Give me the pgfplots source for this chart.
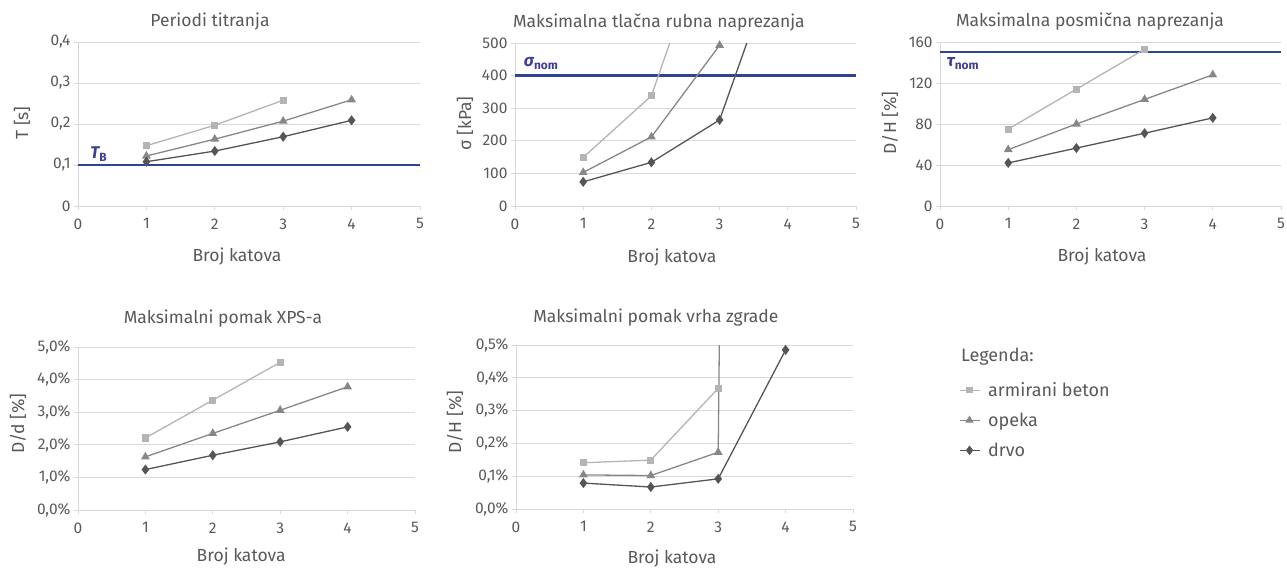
\documentclass[border=0pt]{standalone}
\usepackage{fontspec}
\setmainfont{Fira Sans}
\usepackage{pgfplots}
\pgfplotsset{compat=1.18}
\definecolor{cA}{HTML}{B4B4B4}
\definecolor{cB}{HTML}{878787}
\definecolor{cC}{HTML}{555555}
\definecolor{nb}{HTML}{2E4596}
\definecolor{nl}{HTML}{3F3F99}
\definecolor{tx}{HTML}{595959}
\definecolor{gr}{HTML}{D9D9D9}
\tikzset{lab/.style={text=nl, font=\fontsize{17}{19}\selectfont}}
\pgfplotsset{
  base/.style={scale only axis, xmin=0, xmax=5, xtick={0,...,5},
    axis lines=left, axis line style={gr,-}, ymajorgrids,
    major grid style={gr, line width=0.8pt},
    tick style={gr, line width=0.8pt}, tick align=outside, major tick length=4pt,
    ticklabel style={font=\fontsize{15.5}{17}\selectfont, text=tx},
    label style={font=\fontsize{17.5}{20}\selectfont, text=tx},
    title style={font=\fontsize{17.5}{20}\selectfont, text=tx, anchor=center},
    every axis title shift=0pt,
    /pgf/number format/assume math mode=true,
    /pgf/number format/use comma,
    xticklabel style={yshift=-5pt},
  },
  sA/.style={cA, line width=1.3pt, mark=square*, mark size=2.9pt, mark options={solid, fill=cA}},
  sB/.style={cB, line width=1.3pt, mark=triangle*, mark size=3.8pt, mark options={solid, fill=cB}},
  sC/.style={cC, line width=1.3pt, mark=diamond*, mark size=4pt, mark options={solid, fill=cC}},
  lim/.style={nb, line width=2.4pt, mark=none},
}
\begin{document}
\begin{tikzpicture}[x=1pt,y=1pt]
\useasboundingbox (0,0) rectangle (1287,568);

% Panel 1
\begin{axis}[base, at={(78pt,362pt)}, anchor=south west, width=342pt, height=164pt,
  ymin=0, ymax=0.4, ytick={0,0.1,...,0.4},
  yticklabel style={/pgf/number format/.cd, fixed, precision=1, use comma},
  title={Periodi titranja}, title style={at={(axis description cs:0.386,1.122)}},
  xlabel={Broj katova}, xlabel style={at={(axis description cs:0.465,-0.311)}, anchor=center},
  ylabel={T [s]}, ylabel style={at={(axis description cs:-0.164,0.506)}, anchor=center}]
\addplot[lim] coordinates {(0,0.1) (5,0.1)};
\addplot[sA] coordinates {(1,0.147) (2,0.197) (3,0.258)};
\addplot[sB] coordinates {(1,0.122) (2,0.163) (3,0.207) (4,0.259)};
\addplot[sC] coordinates {(1,0.108) (2,0.134) (3,0.169) (4,0.209)};
\node[lab, anchor=base west] at (axis cs:0.13,0.116) {{\bfseries\itshape T}\textsubscript{\bfseries B}};
\end{axis}

% Panel 2
\begin{axis}[base, at={(515pt,362pt)}, anchor=south west, width=341pt, height=163pt,
  ymin=0, ymax=500, ytick={0,100,...,500},
  title={Maksimalna tlačna rubna naprezanja}, title style={at={(axis description cs:0.422,1.123)}},
  xlabel={Broj katova}, xlabel style={at={(axis description cs:0.46,-0.319)}, anchor=center},
  ylabel={σ [kPa]}, ylabel style={at={(axis description cs:-0.147,0.506)}, anchor=center}]
\addplot[lim] coordinates {(0,400) (5,400)};
\addplot[sA] coordinates {(1,149) (2,338) (3,940)};
\addplot[sB] coordinates {(1,103) (2,212) (3,493) (4,2000)};
\addplot[sC] coordinates {(1,74) (2,134) (3,264) (4,855)};
\node[lab, anchor=base west] at (axis cs:0.08,428) {{\bfseries\itshape σ}\textsubscript{\bfseries nom}};
\end{axis}

% Panel 3
\begin{axis}[base, at={(940pt,362pt)}, anchor=south west, width=341pt, height=164pt,
  ymin=0, ymax=160, ytick={0,40,...,160},
  title={Maksimalna posmična naprezanja}, title style={at={(axis description cs:0.44,1.122)}},
  xlabel={Broj katova}, xlabel style={at={(axis description cs:0.475,-0.311)}, anchor=center},
  ylabel={D/H [\%]}, ylabel style={at={(axis description cs:-0.147,0.506)}, anchor=center}]
\addplot[lim] coordinates {(0,150) (5,150)};
\addplot[sA] coordinates {(1,75) (2,114) (3,153)};
\addplot[sB] coordinates {(1,55) (2,80) (3,104) (4,128)};
\addplot[sC] coordinates {(1,42) (2,56.5) (3,71) (4,86)};
\node[lab, anchor=base west] at (axis cs:0.05,136) {{\bfseries\itshape τ}\textsubscript{\bfseries nom}};
\end{axis}

% Panel 4
\begin{axis}[base, at={(78pt,58pt)}, anchor=south west, width=337pt, height=163pt,
  ymin=0, ymax=5, ytick={0,1,...,5},
  yticklabel={\pgfmathprintnumber[fixed,fixed zerofill,precision=1,use comma,assume math mode=true]{\tick}\%},
  title={Maksimalni pomak XPS-a}, title style={at={(axis description cs:0.43,1.172)}},
  xlabel={Broj katova}, xlabel style={at={(axis description cs:0.484,-0.288)}, anchor=center},
  ylabel={D/d [\%]}, ylabel style={at={(axis description cs:-0.178,0.53)}, anchor=center}]
\addplot[sA] coordinates {(1,2.21) (2,3.37) (3,4.53)};
\addplot[sB] coordinates {(1,1.63) (2,2.35) (3,3.06) (4,3.78)};
\addplot[sC] coordinates {(1,1.24) (2,1.68) (3,2.09) (4,2.55)};
\end{axis}

% Panel 5
\begin{axis}[base, at={(516pt,59pt)}, anchor=south west, width=337pt, height=164pt,
  ymin=0, ymax=0.5, ytick={0,0.1,...,0.5},
  yticklabel={\pgfmathprintnumber[fixed,fixed zerofill,precision=1,use comma,assume math mode=true]{\tick}\%},
  title={Maksimalni pomak vrha zgrade}, title style={at={(axis description cs:0.415,1.165)}},
  xlabel={Broj katova}, xlabel style={at={(axis description cs:0.463,-0.30)}, anchor=center},
  ylabel={D/H [\%]}, ylabel style={at={(axis description cs:-0.181,0.53)}, anchor=center},
  legend style={at={(axis description cs:1.314,0.78)}, anchor=north west, draw=none, fill=none,
    font=\fontsize{18}{20}\selectfont, text=tx, row sep=13pt, inner sep=0pt,
    nodes={inner sep=1pt}},
  legend cell align=left,
  legend image code/.code={\draw[mark repeat=2,mark phase=2,line width=1pt] plot coordinates {(0pt,0pt) (10pt,0pt) (20pt,0pt)}; \path (27pt,0pt);},
  extra description/.code={\node[anchor=west, text=tx, font=\fontsize{18}{20}\selectfont] at (1.31,0.927) {Legenda:};}]
\addplot[sA] coordinates {(1,0.141) (2,0.149) (3,0.368)};
\addlegendentry{armirani beton}
\addplot[sB] coordinates {(1,0.104) (2,0.102) (3,0.173) (4,20)};
\addlegendentry{opeka}
\addplot[sC] coordinates {(1,0.079) (2,0.067) (3,0.092) (4,0.485)};
\addlegendentry{drvo}
\end{axis}
\end{tikzpicture}
\end{document}
